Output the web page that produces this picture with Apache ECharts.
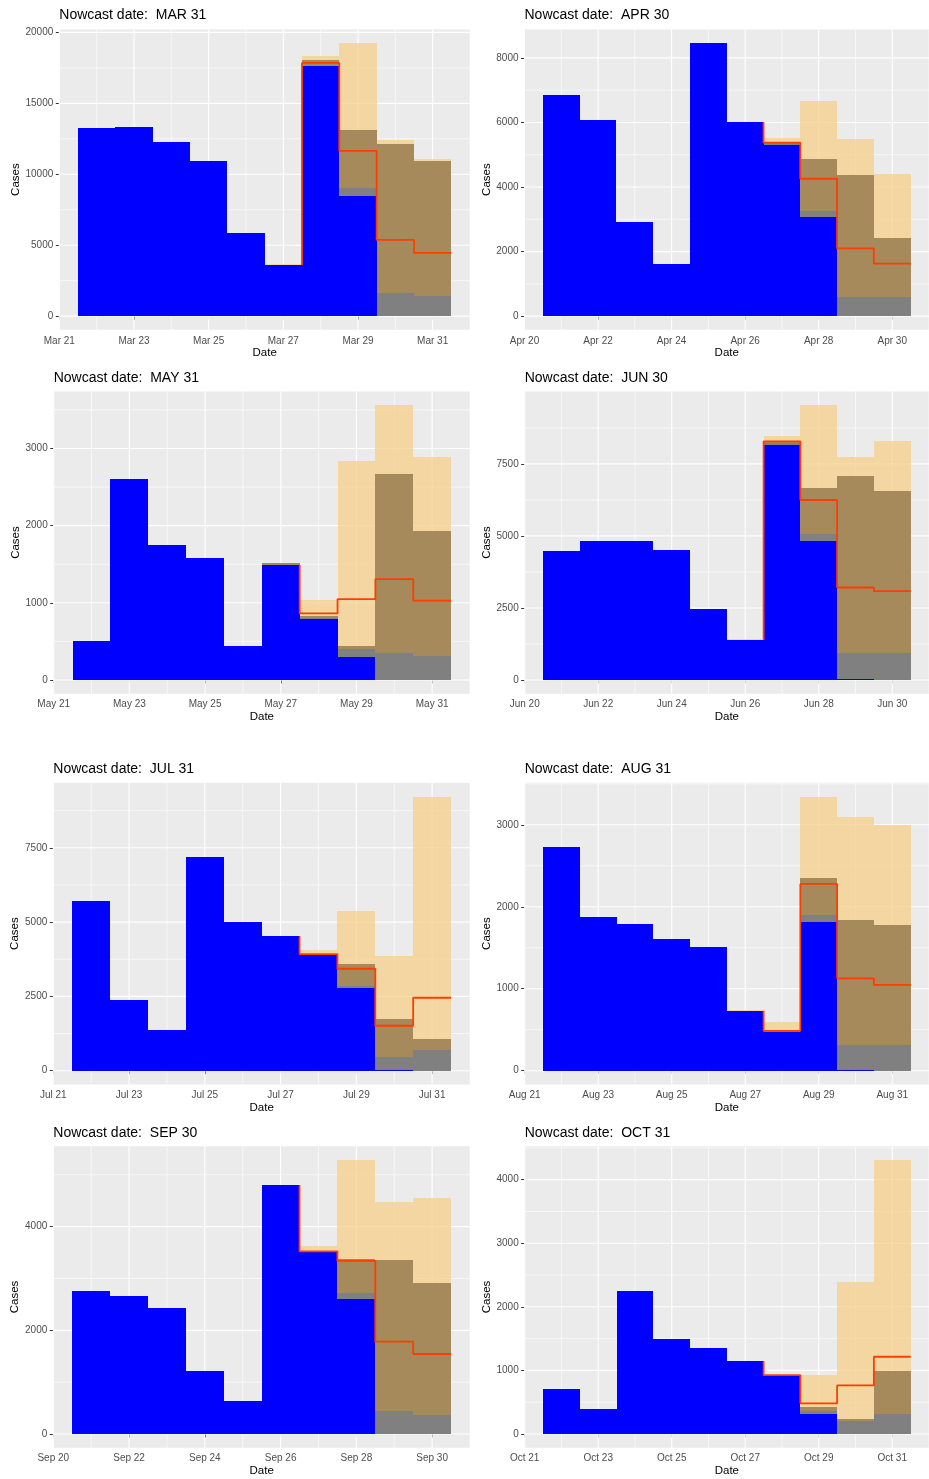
<!DOCTYPE html>
<html><head><meta charset="utf-8">
<script src="https://cdn.jsdelivr.net/npm/echarts@6/dist/echarts.min.js"></script>
<style>html,body{margin:0;padding:0;background:#fff}#c{width:929px;height:1479px}</style>
</head><body><div id="c"></div>
<script>
// ---------- data ----------
const days = [1, 2, 3, 4, 5, 6, 7, 8, 9, 10];
const xMajor = [0, 2, 4, 6, 8, 10];
const xMinor = [1, 3, 5, 7, 9, 11];
const _ = null;

const marTitle = 'Nowcast date:  MAR 31';
const marTicks = ['Mar 21', 'Mar 23', 'Mar 25', 'Mar 27', 'Mar 29', 'Mar 31'];
const marObserved = [13250, 13300, 12250, 10950, 5850, 3600, 17600, 8500, 0, 0];
const marGrey     = [_, _, _, _, _, _, 17650, 9000, 1600, 1400];
const marBrown    = [_, _, _, _, _, _, 18050, 13130, 12100, 10950];
const marTan      = [_, _, _, _, _, 3650, 18360, 19250, 12430, 11050];
const marNowcast  = [_, _, _, _, _, 3600, 17850, 11650, 5370, 4455];
const marYMajor = [0, 5000, 10000, 15000, 20000];
const marYMinor = [2500, 7500, 12500, 17500];

const aprTitle = 'Nowcast date:  APR 30';
const aprTicks = ['Apr 20', 'Apr 22', 'Apr 24', 'Apr 26', 'Apr 28', 'Apr 30'];
const aprObserved = [6850, 6070, 2910, 1610, 8460, 6010, 5300, 3075, 0, 0];
const aprGrey     = [_, _, _, _, _, _, 5360, 3260, 586, 586];
const aprBrown    = [_, _, _, _, _, _, 5360, 4853, 4360, 2406];
const aprTan      = [_, _, _, _, _, _, 5520, 6653, 5501, 4411];
const aprNowcast  = [_, _, _, _, _, 6010, 5378, 4257, 2098, 1625];
const aprYMajor = [0, 2000, 4000, 6000, 8000];
const aprYMinor = [1000, 3000, 5000, 7000];

const mayTitle = 'Nowcast date:  MAY 31';
const mayTicks = ['May 21', 'May 23', 'May 25', 'May 27', 'May 29', 'May 31'];
const mayObserved = [510, 2600, 1755, 1585, 435, 1490, 785, 300, 0, 0];
const mayGrey     = [_, _, _, _, _, _, 800, 397, 350, 315];
const mayBrown    = [_, _, _, _, _, 1510, 829, 440, 2672, 1930];
const mayTan      = [_, _, _, _, _, _, 1036, 2836, 3562, 2892];
const mayNowcast  = [_, _, _, _, _, 1490, 863, 1049, 1308, 1027];
const mayYMajor = [0, 1000, 2000, 3000];
const mayYMinor = [500, 1500, 2500, 3500];

const junTitle = 'Nowcast date:  JUN 30';
const junTicks = ['Jun 20', 'Jun 22', 'Jun 24', 'Jun 26', 'Jun 28', 'Jun 30'];
const junObserved = [4460, 4830, 4810, 4520, 2460, 1400, 8160, 4820, 35, 0];
const junGrey     = [_, _, _, _, _, _, 8230, 5076, 950, 950];
const junBrown    = [_, _, _, _, _, _, 8300, 6664, 7070, 6572];
const junTan      = [_, _, _, _, _, 1437, 8472, 9539, 7742, 8298];
const junNowcast  = [_, _, _, _, _, 1400, 8280, 6247, 3210, 3083];
const junYMajor = [0, 2500, 5000, 7500];
const junYMinor = [1250, 3750, 6250, 8750];

const julTitle = 'Nowcast date:  JUL 31';
const julTicks = ['Jul 21', 'Jul 23', 'Jul 25', 'Jul 27', 'Jul 29', 'Jul 31'];
const julObserved = [5700, 2365, 1370, 7200, 4990, 4520, 3900, 2770, 35, 0];
const julGrey     = [_, _, _, _, _, _, _, 2858, 460, 706];
const julBrown    = [_, _, _, _, _, _, _, 3587, 1726, 1054];
const julTan      = [_, _, _, _, _, _, 4047, 5370, 3856, 9226];
const julNowcast  = [_, _, _, _, _, 4520, 3924, 3430, 1513, 2455];
const julYMajor = [0, 2500, 5000, 7500];
const julYMinor = [1250, 3750, 6250, 8750];

const augTitle = 'Nowcast date:  AUG 31';
const augTicks = ['Aug 21', 'Aug 23', 'Aug 25', 'Aug 27', 'Aug 29', 'Aug 31'];
const augObserved = [2735, 1870, 1795, 1605, 1515, 730, 470, 1820, 12, 0];
const augGrey     = [_, _, _, _, _, _, 475, 1905, 316, 316];
const augBrown    = [_, _, _, _, _, _, 495, 2355, 1840, 1780];
const augTan      = [_, _, _, _, _, 738, 588, 3345, 3101, 3000];
const augNowcast  = [_, _, _, _, _, 730, 486, 2278, 1127, 1046];
const augYMajor = [0, 1000, 2000, 3000];
const augYMinor = [500, 1500, 2500, 3500];

const sepTitle = 'Nowcast date:  SEP 30';
const sepTicks = ['Sep 20', 'Sep 22', 'Sep 24', 'Sep 26', 'Sep 28', 'Sep 30'];
const sepObserved = [2750, 2655, 2440, 1215, 645, 4800, 3505, 2600, 0, 0];
const sepGrey     = [_, _, _, _, _, _, 3515, 2720, 444, 367];
const sepBrown    = [_, _, _, _, _, _, 3530, 3370, 3357, 2920];
const sepTan      = [_, _, _, _, _, _, 3627, 5286, 4470, 4547];
const sepNowcast  = [_, _, _, _, _, 4800, 3524, 3338, 1781, 1543];
const sepYMajor = [0, 2000, 4000];
const sepYMinor = [1000, 3000, 5000];

const octTitle = 'Nowcast date:  OCT 31';
const octTicks = ['Oct 21', 'Oct 23', 'Oct 25', 'Oct 27', 'Oct 29', 'Oct 31'];
const octObserved = [705, 395, 2255, 1490, 1350, 1145, 920, 320, 0, 0];
const octGrey     = [_, _, _, _, _, _, _, 356, 199, 314];
const octBrown    = [_, _, _, _, _, _, _, 419, 230, 984];
const octTan      = [_, _, _, _, _, _, _, 932, 2398, 4309];
const octNowcast  = [_, _, _, _, _, 1145, 925, 482, 764, 1215];
const octYMajor = [0, 1000, 2000, 3000, 4000];
const octYMinor = [500, 1500, 2500, 3500, 4500];

// ---------- assembly ----------
const panels = [
  [marTitle, marTicks, marObserved, marGrey, marBrown, marTan, marNowcast, marYMajor, marYMinor],
  [aprTitle, aprTicks, aprObserved, aprGrey, aprBrown, aprTan, aprNowcast, aprYMajor, aprYMinor],
  [mayTitle, mayTicks, mayObserved, mayGrey, mayBrown, mayTan, mayNowcast, mayYMajor, mayYMinor],
  [junTitle, junTicks, junObserved, junGrey, junBrown, junTan, junNowcast, junYMajor, junYMinor],
  [julTitle, julTicks, julObserved, julGrey, julBrown, julTan, julNowcast, julYMajor, julYMinor],
  [augTitle, augTicks, augObserved, augGrey, augBrown, augTan, augNowcast, augYMajor, augYMinor],
  [sepTitle, sepTicks, sepObserved, sepGrey, sepBrown, sepTan, sepNowcast, sepYMajor, sepYMinor],
  [octTitle, octTicks, octObserved, octGrey, octBrown, octTan, octNowcast, octYMajor, octYMinor]
];

const FONT = '"Liberation Sans", Arial, sans-serif';
const colLeft = [[59.3, 524.5], [53.7, 524.7], [53.3, 524.7], [53.3, 524.7]];
const casesEdge = [24.2, 494.2];
const rowTop = [29.4, 391.4, 782.8, 1146.3];
const rowH = [300.4, 302.3, 301.6, 301.4];
const titleTop = [8.4, 371.3, 762.5, 1125.7];
const rightW = 416;
const leftEdge = 470;

const option = { animation: false, title: [], grid: [], xAxis: [], yAxis: [], series: [] };

function barSeries(i, vals, color, z) {
  const data = [];
  days.forEach((d, k) => { if (vals[k] != null && vals[k] > 0) data.push([d, vals[k]]); });
  return {
    type: 'custom', xAxisIndex: i, yAxisIndex: i, z: z, silent: true,
    encode: { x: 0, y: 1 }, data: data,
    renderItem: function (params, api) {
      const x = api.value(0), y = api.value(1);
      const p0 = api.coord([x - 0.5, 0]);
      const p1 = api.coord([x + 0.5, y]);
      const x0 = Math.round(p0[0]), x1 = Math.round(p1[0]);
      const yb = Math.round(p0[1]), yt = Math.round(p1[1]);
      let h = yb - yt;
      let top = yt;
      if (h < 1) { h = 1; top = yb - 1; }
      return { type: 'rect', shape: { x: x0, y: top, width: x1 - x0, height: h },
               style: { fill: color } };
    }
  };
}

panels.forEach((p, i) => {
  const [title, ticks, observed, grey, brown, tan, nowcast, yMajor, yMinor] = p;
  const row = Math.floor(i / 2), col = i % 2;
  const left = colLeft[row][col];
  const width = col === 0 ? leftEdge - left : rightW;
  const all = [].concat(observed, grey, brown, tan, nowcast).filter(v => v != null);
  const M = Math.max.apply(null, all);
  const ymin = -0.05 * M, ymax = 1.05 * M;

  option.title.push({ text: title, left: left, top: titleTop[row], padding: 0,
    textStyle: { fontFamily: FONT, fontSize: 14, fontWeight: 'normal', color: '#000' } });
  option.grid.push({ left: left, top: rowTop[row], width: width, height: rowH[row],
    show: true, backgroundColor: '#EBEBEB', borderWidth: 0 });
  option.xAxis.push({
    type: 'value', gridIndex: i, min: 0, max: 11,
    axisLine: { show: false }, splitLine: { show: false },
    axisTick: { show: true, customValues: xMajor, length: 3.5, lineStyle: { color: '#333333', width: 1 } },
    axisLabel: { customValues: xMajor, formatter: v => ticks[xMajor.indexOf(v)], color: '#4D4D4D',
      fontSize: 10, fontFamily: FONT, margin: 6 },
    name: 'Date', nameLocation: 'middle', nameGap: 17.5,
    nameTextStyle: { fontFamily: FONT, fontSize: 11.5, color: '#000' }
  });
  option.yAxis.push({
    type: 'value', gridIndex: i, min: ymin, max: ymax,
    axisLine: { show: false }, splitLine: { show: false },
    axisTick: { show: true, customValues: yMajor, length: 3.5, lineStyle: { color: '#333333', width: 1 } },
    axisLabel: { customValues: yMajor, formatter: v => String(v), color: '#4D4D4D',
      fontSize: 10, fontFamily: FONT, margin: 6 },
    name: 'Cases', nameLocation: 'middle', nameGap: left - casesEdge[col],
    nameTextStyle: { fontFamily: FONT, fontSize: 11.5, color: '#000' }
  });

  // grid lines (vertical and horizontal), through the axes' scales
  const vData = xMajor.map(v => [v, 0, 1]).concat(xMinor.map(v => [v, 0, 0]));
  const hData = yMajor.map(v => [0, v, 1]).concat(yMinor.map(v => [0, v, 0]));
  option.series.push({
    type: 'custom', xAxisIndex: i, yAxisIndex: i, z: 1, silent: true, encode: { x: 0, y: 1 }, data: vData,
    renderItem: function (params, api) {
      const cs = params.coordSys;
      const x = api.coord([api.value(0), 0])[0];
      if (x > cs.x + cs.width + 0.5) return null;
      return { type: 'line', shape: { x1: x, y1: cs.y, x2: x, y2: cs.y + cs.height },
        style: { stroke: '#FFFFFF', lineWidth: api.value(2) ? 1.1 : 0.6 } };
    }
  });
  option.series.push({
    type: 'custom', xAxisIndex: i, yAxisIndex: i, z: 1, silent: true, encode: { x: 0, y: 1 }, data: hData,
    renderItem: function (params, api) {
      const cs = params.coordSys;
      const y = api.coord([0, api.value(1)])[1];
      return { type: 'line', shape: { x1: cs.x, y1: y, x2: cs.x + cs.width, y2: y },
        style: { stroke: '#FFFFFF', lineWidth: api.value(2) ? 1.1 : 0.6 } };
    }
  });

  option.series.push(barSeries(i, tan, 'rgba(247,205,135,0.72)', 2));
  option.series.push(barSeries(i, brown, 'rgb(166,138,91)', 3));
  option.series.push(barSeries(i, grey, 'rgb(128,128,128)', 4));
  option.series.push(barSeries(i, observed, '#0000FF', 5));

  // nowcast step line: from right edge of the first nowcast day
  const pts = [];
  const first = nowcast.findIndex(v => v != null);
  pts.push([days[first] + 0.5, nowcast[first]]);
  for (let k = first + 1; k < days.length; k++) {
    pts.push([days[k] - 0.5, nowcast[k]]);
    pts.push([days[k] + 0.5, nowcast[k]]);
  }
  option.series.push({
    type: 'line', xAxisIndex: i, yAxisIndex: i, z: 6, silent: true, data: pts,
    showSymbol: false, symbol: 'none', lineStyle: { color: '#FF3D00', width: 1.8 }
  });
});

const chart = echarts.init(document.getElementById('c'), null, { renderer: 'canvas' });
chart.setOption(option);
</script></body></html>
